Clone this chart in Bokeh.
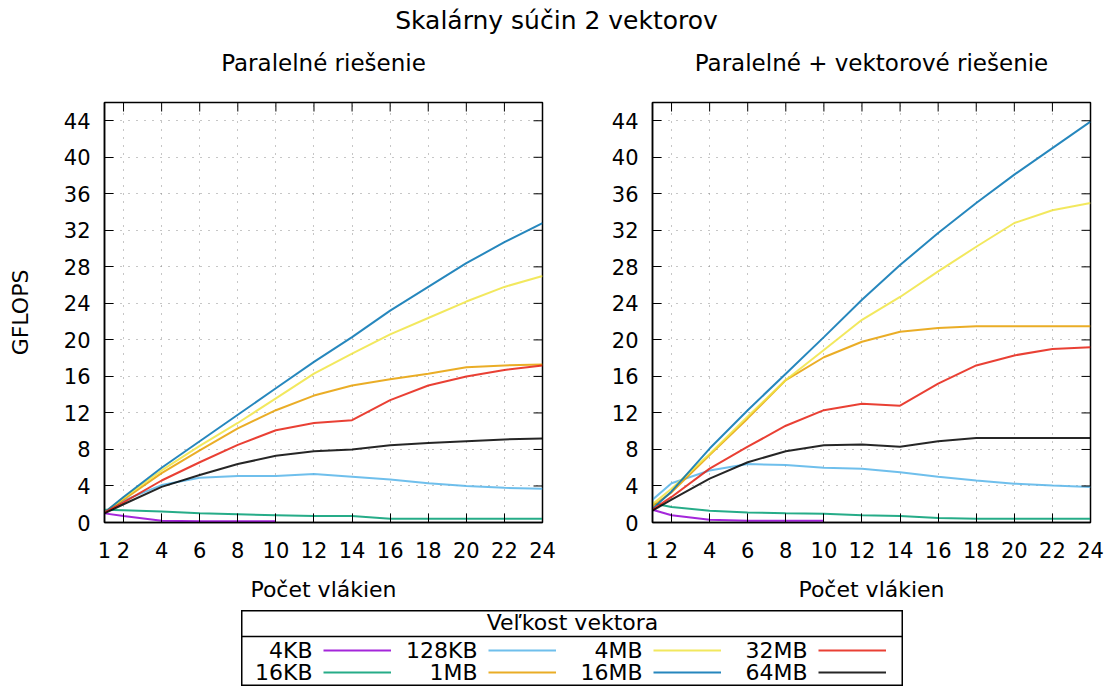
import math
from bokeh.plotting import figure
from bokeh.layouts import column, row
from bokeh.models import (FixedTicker, Legend, LegendItem, Label, Span, Spacer, Range1d)
from bokeh.embed import file_html
from bokeh.resources import INLINE

NaN = float("nan")

main_title = "Skalárny súčin 2 vektorov"
panel_titles = ["Paralelné riešenie", "Paralelné + vektorové riešenie"]
x_label = "Počet vlákien"
y_label = "GFLOPS"
legend_title = "Veľkost vektora"

threads = [1, 2, 4, 6, 8, 10, 12, 14, 16, 18, 20, 22, 24]
sizes = ["4KB", "16KB", "128KB", "1MB", "4MB", "16MB", "32MB", "64MB"]
colors = ["#9400D3", "#009E73", "#56B4E9", "#E69F00", "#F0E442", "#0072B2", "#E51E10", "#000000"]
x_ticks = [1, 2, 4, 6, 8, 10, 12, 14, 16, 18, 20, 22, 24]
y_ticks = [0, 4, 8, 12, 16, 20, 24, 28, 32, 36, 40, 44]

# Paralelné riešenie
par_4KB   = [1.0, 0.7, 0.2, 0.15, 0.15, 0.15, NaN, NaN, NaN, NaN, NaN, NaN, NaN]
par_16KB  = [1.4, 1.35, 1.2, 1.0, 0.9, 0.8, 0.7, 0.7, 0.4, 0.4, 0.4, 0.4, 0.4]
par_128KB = [1.1, 2.4, 4.1, 4.9, 5.1, 5.1, 5.3, 5.0, 4.7, 4.3, 4.0, 3.8, 3.7]
par_1MB   = [1.1, 2.5, 5.4, 7.9, 10.3, 12.3, 13.9, 15.0, 15.7, 16.3, 17.0, 17.2, 17.3]
par_4MB   = [1.1, 2.7, 5.7, 8.4, 10.9, 13.6, 16.3, 18.5, 20.6, 22.4, 24.2, 25.8, 27.0]
par_16MB  = [1.1, 2.8, 6.0, 8.9, 11.8, 14.7, 17.6, 20.3, 23.2, 25.8, 28.4, 30.7, 32.8]
par_32MB  = [1.1, 2.2, 4.6, 6.6, 8.5, 10.1, 10.9, 11.2, 13.4, 15.0, 16.0, 16.7, 17.2]
par_64MB  = [1.0, 2.0, 3.9, 5.2, 6.4, 7.3, 7.8, 8.0, 8.45, 8.7, 8.9, 9.1, 9.2]

# Paralelné + vektorové riešenie
vec_4KB   = [1.4, 0.8, 0.3, 0.2, 0.2, 0.2, NaN, NaN, NaN, NaN, NaN, NaN, NaN]
vec_16KB  = [2.1, 1.7, 1.3, 1.1, 1.0, 0.95, 0.8, 0.7, 0.5, 0.4, 0.4, 0.4, 0.4]
vec_128KB = [2.5, 4.3, 5.7, 6.4, 6.3, 6.0, 5.9, 5.5, 5.0, 4.6, 4.25, 4.05, 3.9]
vec_1MB   = [1.8, 3.3, 7.4, 11.4, 15.6, 18.1, 19.8, 20.9, 21.3, 21.5, 21.5, 21.5, 21.5]
vec_4MB   = [2.0, 3.7, 7.5, 11.6, 15.6, 18.9, 22.2, 24.7, 27.5, 30.2, 32.8, 34.2, 35.0]
vec_16MB  = [1.5, 3.4, 8.1, 12.3, 16.3, 20.3, 24.4, 28.2, 31.7, 35.0, 38.1, 41.0, 43.9]
vec_32MB  = [1.4, 2.8, 5.9, 8.3, 10.6, 12.3, 13.0, 12.8, 15.2, 17.2, 18.3, 19.0, 19.2]
vec_64MB  = [1.3, 2.5, 4.8, 6.6, 7.8, 8.45, 8.55, 8.3, 8.9, 9.25, 9.25, 9.25, 9.25]

par_series = [par_4KB, par_16KB, par_128KB, par_1MB, par_4MB, par_16MB, par_32MB, par_64MB]
vec_series = [vec_4KB, vec_16KB, vec_128KB, vec_1MB, vec_4MB, vec_16MB, vec_32MB, vec_64MB]

FONT = "DejaVu Sans"
LINE_ALPHA = 0.85


def make_panel(series, width, left, right, show_ylabel):
    p = figure(width=width, height=526, x_range=Range1d(1, 24), y_range=Range1d(0, 46),
               output_backend="svg", toolbar_location=None,
               min_border_left=left, min_border_right=right,
               min_border_top=18, min_border_bottom=88)
    p.outline_line_color = "black"
    p.outline_line_width = 1.5
    p.outline_line_alpha = 1.0
    p.background_fill_color = "white"
    p.border_fill_color = "white"

    for vals, col in zip(series, colors):
        p.line(threads, vals, line_color=col, line_width=2, line_alpha=LINE_ALPHA)

    # mirrored inward ticks on top and right edges
    p.scatter(x_ticks, [46] * len(x_ticks), marker="dash", size=18, angle=math.pi / 2,
              line_color="black", line_width=1)
    p.scatter([24] * len(y_ticks), y_ticks, marker="dash", size=18,
              line_color="black", line_width=1)

    p.xaxis.ticker = FixedTicker(ticks=x_ticks)
    p.yaxis.ticker = FixedTicker(ticks=y_ticks)
    for ax in (p.xaxis, p.yaxis):
        ax.major_tick_in = 9
        ax.major_tick_out = 0
        ax.minor_tick_line_color = None
        ax.major_tick_line_color = "black"
        ax.axis_line_color = "black"
        ax.axis_line_width = 1.5
        ax.major_label_text_font = FONT
        ax.major_label_text_font_size = "21px"
        ax.major_label_text_color = "#000000"
        ax.axis_label_text_font = FONT
        ax.axis_label_text_font_size = "22px"
        ax.axis_label_text_font_style = "normal"
        ax.axis_label_text_color = "#000000"
    p.xaxis.major_label_standoff = 19
    p.xaxis.axis_label = x_label
    p.xaxis.axis_label_standoff = 16
    p.yaxis.major_label_standoff = 14
    if show_ylabel:
        p.yaxis.axis_label = y_label
        p.yaxis.axis_label_standoff = 28

    for g in (p.xgrid, p.ygrid):
        g.grid_line_color = "#8c8c8c"
        g.grid_line_dash = "1 7"
        g.grid_line_width = 1
    return p


p1 = make_panel(par_series, 556, 104, 14, True)
p2 = make_panel(vec_series, 557, 96, 23, False)

# header with the main title and the two panel titles
header = figure(width=1113, height=84, x_range=Range1d(0, 1), y_range=Range1d(0, 1),
                output_backend="svg", toolbar_location=None,
                min_border=0, x_axis_location=None, y_axis_location=None,
                outline_line_color=None)
header.grid.visible = False
header.add_layout(Label(x=556, y=64, x_units="screen", y_units="screen", text=main_title,
                        text_align="center", text_baseline="middle", text_font=FONT,
                        text_font_size="25px", text_color="#000000"))
for cx, t in zip([323, 871], panel_titles):
    header.add_layout(Label(x=cx, y=22, x_units="screen", y_units="screen", text=t,
                            text_align="center", text_baseline="middle", text_font=FONT,
                            text_font_size="23px", text_color="#000000"))

# legend panel (gnuplot style: label right-aligned, then the line sample)
# the sample lines are the series themselves, kept outside the visible range
leg = figure(width=662, height=76, x_range=Range1d(-200, -199), y_range=Range1d(-200, -199),
             output_backend="svg", toolbar_location=None, min_border=0,
             x_axis_location=None, y_axis_location=None)
leg.outline_line_color = "black"
leg.outline_line_width = 2
leg.grid.visible = False

COL_X0, COL_PITCH, SAMPLE_W = 82, 165, 68
ROW_Y = [36, 14]
items = []
for i, (name, vals, col) in enumerate(zip(sizes, par_series, colors)):
    r = leg.line(threads, vals, line_color=col, line_width=2, line_alpha=LINE_ALPHA)
    items.append(LegendItem(label=" ", renderers=[r]))
    c, rr = divmod(i, 2)
    leg.add_layout(Label(x=COL_X0 + c * COL_PITCH - 11, y=ROW_Y[rr], x_units="screen",
                         y_units="screen", text=name, text_align="right",
                         text_baseline="middle", text_font=FONT, text_font_size="22px",
                         text_color="#000000"))
legend = Legend(items=items, orientation="vertical", nrows=2, location=(COL_X0, 3),
                glyph_width=SAMPLE_W, glyph_height=22, label_standoff=9,
                label_width=COL_PITCH - SAMPLE_W - 9, label_height=22,
                spacing=0, padding=0, margin=0, border_line_color=None,
                background_fill_alpha=0, label_text_font=FONT, label_text_font_size="12px",
                label_text_color="#000000")
leg.add_layout(legend, "center")
leg.add_layout(Label(x=331, y=64, x_units="screen", y_units="screen", text=legend_title,
                     text_align="center", text_baseline="middle", text_font=FONT,
                     text_font_size="22px", text_color="#000000"))
leg.add_layout(Span(location=50, location_units="screen", dimension="width",
                    line_color="black", line_width=1.5))

layout = column(header, row(p1, p2), row(Spacer(width=241, height=76), leg))

open("out.html", "w").write(file_html(layout, INLINE))
